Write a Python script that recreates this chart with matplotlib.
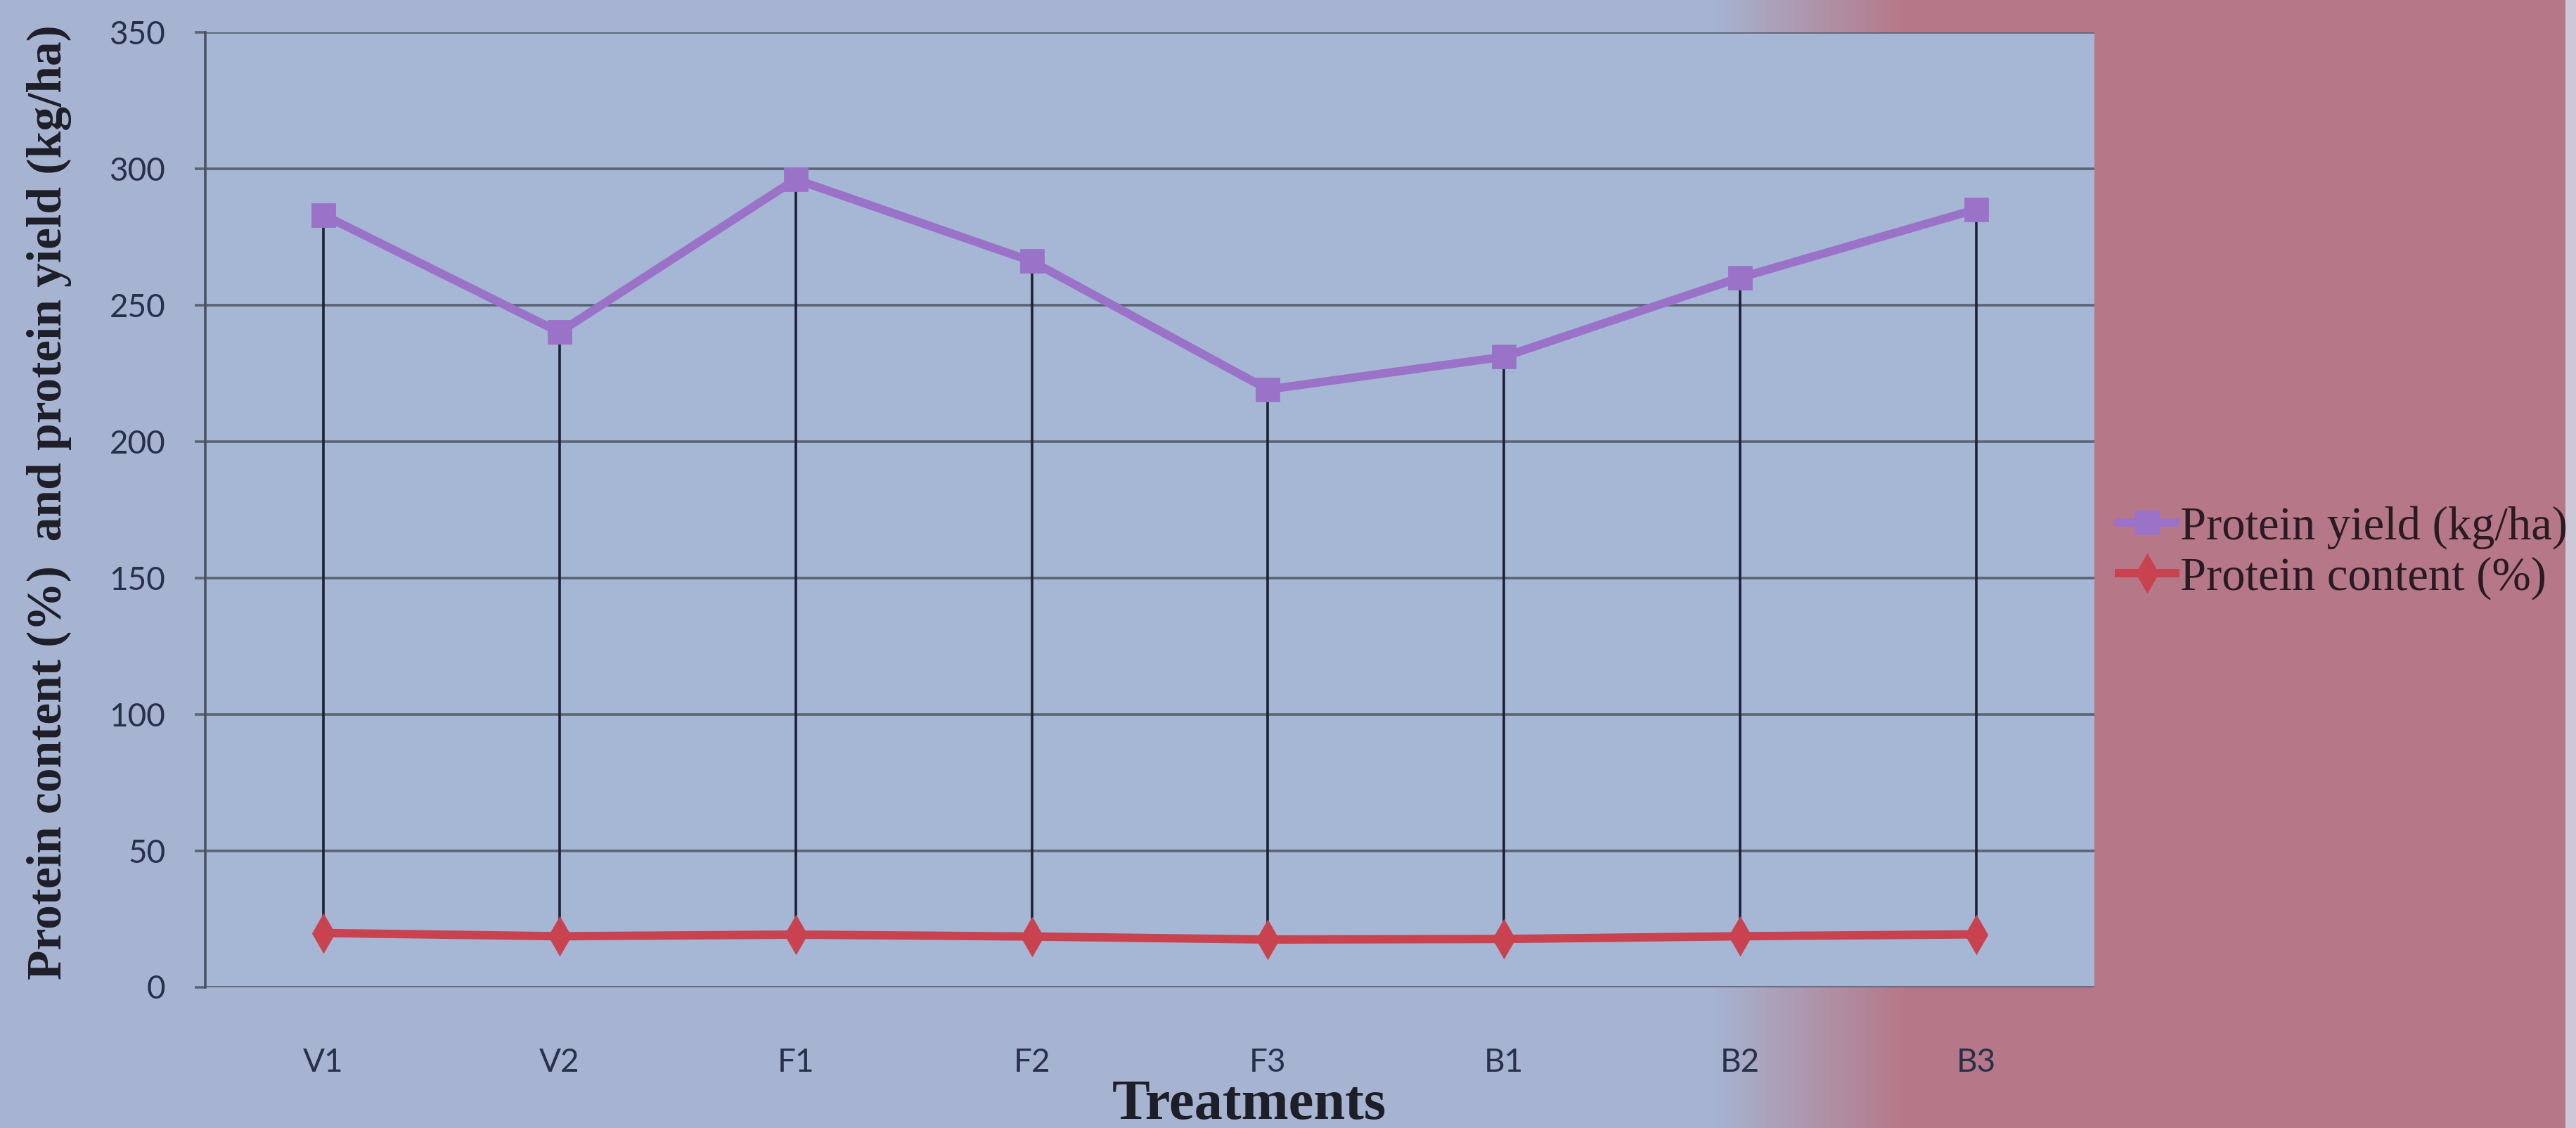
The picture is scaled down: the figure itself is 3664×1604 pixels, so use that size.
import numpy as np
import matplotlib.pyplot as plt

treatments = ["V1", "V2", "F1", "F2", "F3", "B1", "B2", "B3"]
protein_yield = [283, 240, 296, 266, 219, 231, 260, 285]
protein_content = [19.8, 18.6, 19.2, 18.5, 17.4, 17.6, 18.6, 19.3]

x = np.arange(len(treatments))

fig = plt.figure(figsize=(18.32, 8.02), dpi=200)

# background wash: blue on the left fading into pink on the right
bg = fig.add_axes([0, 0, 1, 1], zorder=-10)
pos = np.linspace(0, 1, 1000)
ramp = np.clip((pos - 0.665) / 0.075, 0, 1)
blue = np.array([166, 180, 210]) / 255
pink = np.array([182, 120, 136]) / 255
row = blue[None, :] * (1 - ramp[:, None]) + pink[None, :] * ramp[:, None]
row[pos > 0.996] = np.array([205, 200, 215]) / 255
bg.imshow(np.repeat(row[None, :, :], 2, axis=0), aspect="auto", extent=[0, 1, 0, 1])
bg.axis("off")

ax = fig.add_axes([0.0797, 0.125, 0.7333, 0.8466])
ax.set_facecolor("#a5b7d5")

# high-low lines joining the two series
ax.vlines(x, protein_content, protein_yield, color="#1c2133", lw=1.3, zorder=2)
ax.plot(x, protein_yield, color="#9a72c8", lw=4.3, marker="s", ms=11.5,
        zorder=3, label="Protein yield (kg/ha)")
ax.plot(x, protein_content, color="#c8424f", lw=4.3, marker="d", ms=13,
        zorder=3, label="Protein content (%)")

ax.set_xlim(-0.5, 7.5)
ax.set_ylim(0, 350)
ax.set_yticks(range(0, 351, 50))
ax.set_xticks(x)
ax.set_xticklabels(treatments)
ax.yaxis.grid(True, color="#5b6472", lw=1.3)
ax.set_axisbelow(True)

for s in ["top", "right", "bottom"]:
    ax.spines[s].set_visible(False)
ax.spines["left"].set_color("#4a5260")
ax.spines["left"].set_linewidth(1.3)

ax.tick_params(axis="y", length=5.4, width=1.3, color="#5b6472", pad=15,
               labelsize=16.5, labelcolor="#28304a")
ax.tick_params(axis="x", length=0, pad=31, labelsize=16.5, labelcolor="#28304a")
for lab in ax.get_xticklabels() + ax.get_yticklabels():
    lab.set_family("Lato")

fig.text(0.019, 0.555, "Protein content (%)  and protein yield (kg/ha)",
         family="Liberation Serif", fontweight="bold", fontsize=25,
         color="#1e1e28", rotation=90, ha="center", va="center")

fig.text(0.485, 0.02, "Treatments", family="Liberation Serif",
         fontweight="bold", fontsize=29, color="#1e1e28",
         ha="center", va="center")

fig.legend(loc="center left", bbox_to_anchor=(0.8227, 0.51), frameon=False,
           prop={"family": "Liberation Serif", "size": 24},
           handlelength=1.2, handletextpad=0.1, labelspacing=0.15,
           borderpad=0, borderaxespad=0, labelcolor="#2a1a22")

fig.savefig("out.png", dpi=200)
